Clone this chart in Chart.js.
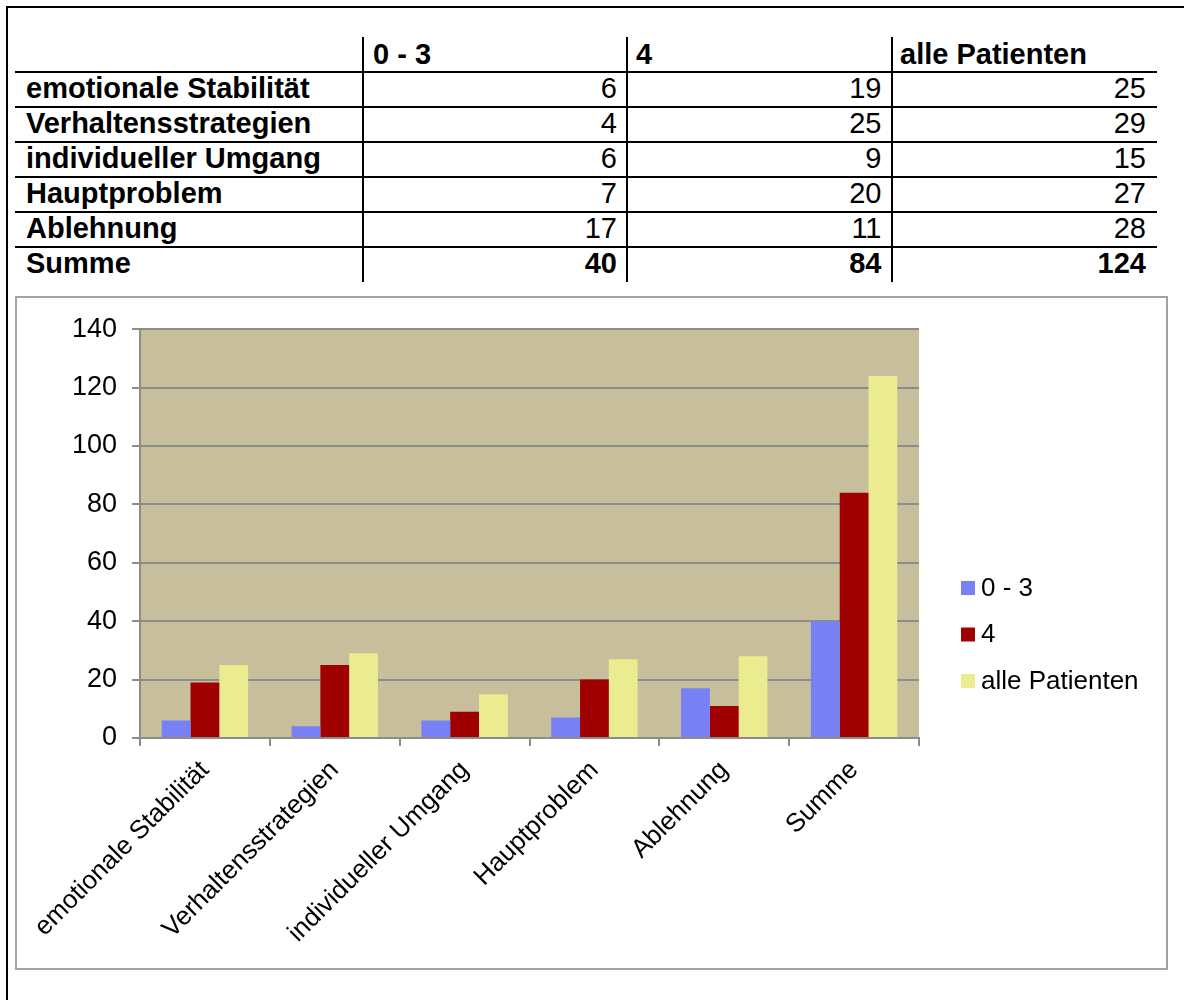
<!DOCTYPE html>
<html>
<head>
<meta charset="utf-8">
<script src="https://cdn.jsdelivr.net/npm/chart.js@4.4.1/dist/chart.umd.min.js"></script>
<style>
  html, body { margin: 0; padding: 0; background: #fff; }
  body { width: 1184px; height: 1000px; position: relative; overflow: hidden;
         font-family: "Liberation Sans", Arial, sans-serif; }
  #frame { position: absolute; left: 6px; top: 6px; width: 1300px; height: 1100px;
           border-left: 2px solid #000; border-top: 2px solid #000; }
  #table { position: absolute; left: 0; top: 0; }
  #chartBox { position: absolute; left: 15px; top: 296px; width: 1149px; height: 670px;
              border: 2px solid #a3a3a3; background: #fff; }
  canvas { display: block; }
</style>
</head>
<body>
<div id="frame"></div>
<svg id="table" width="1184" height="292" font-family="Liberation Sans, Arial, sans-serif" font-size="29"></svg>
<div id="chartBox"><canvas id="c" width="1149" height="670"></canvas></div>
<script>
// Kategorien und Werte
const categories = ['emotionale Stabilität', 'Verhaltensstrategien', 'individueller Umgang',
                    'Hauptproblem', 'Ablehnung', 'Summe'];
const seriesNames = ['0 - 3', '4', 'alle Patienten'];
const group03 = [6, 4, 6, 7, 17, 40];
const group4 = [19, 25, 9, 20, 11, 84];
const allPatients = [25, 29, 15, 27, 28, 124];
const yTicks = [0, 20, 40, 60, 80, 100, 120, 140];

const seriesColors = ['#7781F5', '#A00000', '#EBEB8F'];
const FONT = '"Liberation Sans", Arial, sans-serif';

// ---- Tabelle ----
const svgNS = 'http://www.w3.org/2000/svg';
const tbl = document.getElementById('table');
function add(tag, attrs, text) {
  const el = document.createElementNS(svgNS, tag);
  for (const k in attrs) el.setAttribute(k, attrs[k]);
  if (text !== undefined) el.textContent = text;
  tbl.appendChild(el);
  return el;
}
const ruleTop = 71, rowH = 35;
for (let i = 0; i < categories.length; i++) {
  add('rect', { x: 15, y: ruleTop + i * rowH, width: 1142, height: 2, fill: '#000' });
}
[362, 626, 891].forEach(x => add('rect', { x, y: 37, width: 2, height: 245, fill: '#000' }));

const colStart = [373, 636, 900];
const colEnd = [617, 881.5, 1146];
seriesNames.forEach((n, j) => add('text', { x: colStart[j], y: 64, 'font-weight': 'bold' }, n));

const columns = [group03, group4, allPatients];
categories.forEach((cat, i) => {
  const y = ruleTop + i * rowH + 27;
  const isSum = i === categories.length - 1;
  add('text', { x: 26, y, 'font-weight': 'bold' }, cat);
  columns.forEach((col, j) => add('text', {
    x: colEnd[j], y, 'text-anchor': 'end', 'font-weight': isSum ? 'bold' : 'normal'
  }, String(col[i])));
});

// ---- Diagramm ----
Chart.defaults.font.family = FONT;
Chart.defaults.color = '#000';

const plotBackground = {
  id: 'plotBackground',
  beforeDraw(chart) {
    const { ctx, chartArea: a } = chart;
    ctx.save();
    ctx.fillStyle = '#C7BF9B';
    ctx.fillRect(a.left, a.top, a.right - a.left, a.bottom - a.top);
    ctx.restore();
  }
};

const sideLegend = {
  id: 'sideLegend',
  afterDraw(chart) {
    const { ctx, chartArea: a } = chart;
    ctx.save();
    ctx.font = '26px ' + FONT;
    ctx.textAlign = 'left';
    ctx.textBaseline = 'middle';
    chart.data.datasets.forEach((ds, i) => {
      const top = 283 + i * 46.5;
      const x = a.right + 42;
      ctx.fillStyle = ds.backgroundColor;
      ctx.fillRect(x, top, 14, 14);
      ctx.fillStyle = '#000';
      ctx.fillText(ds.label, x + 20, top + 7.5);
    });
    ctx.restore();
  }
};

const gridColor = '#8c8c8c';

new Chart(document.getElementById('c'), {
  type: 'bar',
  data: {
    labels: categories,
    datasets: [
      { label: seriesNames[0], data: group03, backgroundColor: seriesColors[0] },
      { label: seriesNames[1], data: group4, backgroundColor: seriesColors[1] },
      { label: seriesNames[2], data: allPatients, backgroundColor: seriesColors[2] }
    ]
  },
  options: {
    responsive: false,
    devicePixelRatio: 1,
    animation: false,
    layout: { padding: { left: 0, top: 29, right: 247, bottom: 0 } },
    datasets: { bar: { categoryPercentage: 0.665, barPercentage: 1.0, borderWidth: 0 } },
    plugins: { legend: { display: false }, tooltip: { enabled: false } },
    scales: {
      x: {
        grid: { offset: true, drawOnChartArea: false, drawTicks: true, tickLength: 8,
                color: gridColor, lineWidth: 2 },
        border: { display: true, color: gridColor, width: 2 },
        ticks: { font: { size: 26 }, color: '#000', minRotation: 45, maxRotation: 45,
                 autoSkip: false, padding: 9 },
        afterFit(scale) {
          scale.height = 230;
          scale.paddingLeft = 0;
          scale.paddingRight = 0;
        }
      },
      y: {
        min: yTicks[0],
        max: yTicks[yTicks.length - 1],
        afterBuildTicks(scale) { scale.ticks = yTicks.map(v => ({ value: v })); },
        grid: { color: gridColor, lineWidth: 2, drawTicks: true, tickLength: 8 },
        border: { display: true, color: gridColor, width: 2 },
        ticks: { font: { size: 27 }, color: '#000', padding: 15 },
        afterFit(scale) { scale.width = 123; }
      }
    }
  },
  plugins: [plotBackground, sideLegend]
});
</script>
</body>
</html>
